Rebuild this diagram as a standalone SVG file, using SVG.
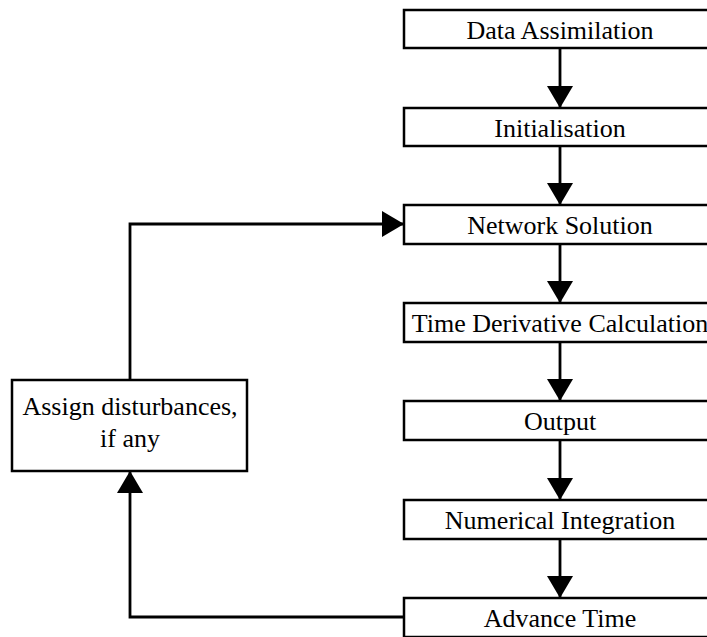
<svg xmlns="http://www.w3.org/2000/svg" width="707" height="637" viewBox="0 0 707 637">
<defs>
<marker id="ah" markerUnits="userSpaceOnUse" viewBox="0 0 22 26" refX="22" refY="13" markerWidth="22" markerHeight="26" orient="auto">
<path d="M0,0 L22,13 L0,26 Z" fill="#000"/>
</marker>
<style>
.box{fill:#fff;stroke:#000;stroke-width:2.5}
.t{font-family:"Liberation Serif","Times New Roman",serif;font-size:26px;fill:#000;text-anchor:middle}
.c{fill:none;stroke:#000;stroke-width:2.8;marker-end:url(#ah)}
</style>
</defs>
<rect width="707" height="637" fill="#fff"/>
<g id="connectors">
<line class="c" x1="560" y1="48" x2="560" y2="108"/>
<line class="c" x1="560" y1="146" x2="560" y2="205"/>
<line class="c" x1="560" y1="244" x2="560" y2="303"/>
<line class="c" x1="560" y1="342" x2="560" y2="401"/>
<line class="c" x1="560" y1="440" x2="560" y2="500"/>
<line class="c" x1="560" y1="539" x2="560" y2="598"/>
<polyline class="c" points="404,617 130,617 130,471"/>
<polyline class="c" points="130,380 130,224 404,224"/>
</g>
<g id="n1"><rect class="box" x="404" y="10" width="312" height="38"/><text class="t" x="560" y="39">Data Assimilation</text></g>
<g id="n2"><rect class="box" x="404" y="108" width="312" height="38"/><text class="t" x="560" y="137">Initialisation</text></g>
<g id="n3"><rect class="box" x="404" y="205" width="312" height="39"/><text class="t" x="560" y="234">Network Solution</text></g>
<g id="n4"><rect class="box" x="404" y="303" width="312" height="39"/><text class="t" x="560" y="332">Time Derivative Calculation</text></g>
<g id="n5"><rect class="box" x="404" y="401" width="312" height="39"/><text class="t" x="560" y="430">Output</text></g>
<g id="n6"><rect class="box" x="404" y="500" width="312" height="39"/><text class="t" x="560" y="529">Numerical Integration</text></g>
<g id="n7"><rect class="box" x="404" y="598" width="312" height="39"/><text class="t" x="560" y="627">Advance Time</text></g>
<g id="n8"><rect class="box" x="12" y="380" width="235" height="91"/><text class="t" x="130" y="415">Assign disturbances,</text><text class="t" x="130" y="447">if any</text></g>
</svg>
